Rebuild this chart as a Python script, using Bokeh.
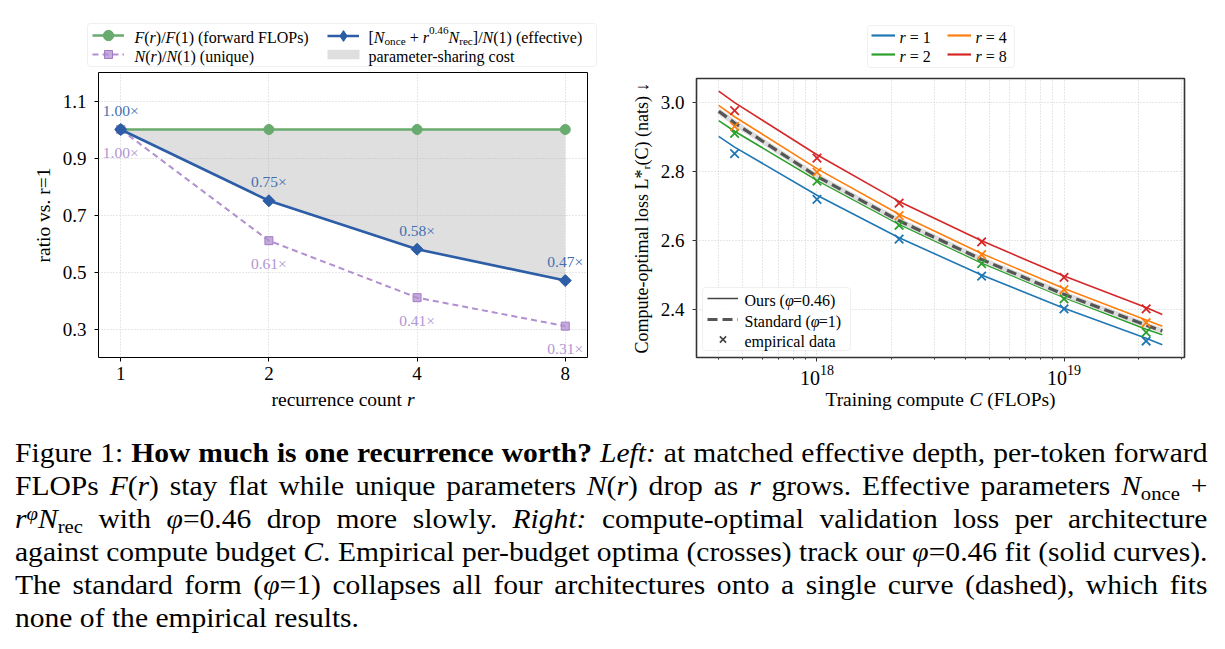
import numpy as np
from bokeh.plotting import figure
from bokeh.models import (Range1d, FixedTicker, PrintfTickFormatter, Label, LabelSet, Legend,
                          LegendItem, BoxAnnotation, ColumnDataSource, Div)
from bokeh.layouts import row, column
from bokeh.embed import file_html
from bokeh.resources import INLINE
from bokeh.core.properties import value

# ---------------- data ----------------
# left panel: ratios relative to r = 1
recurrence = [1, 2, 4, 8]
flops_ratio = [1.00, 1.00, 1.00, 1.00]
unique_ratio = [1.00, 0.61, 0.41, 0.31]
effective_ratio = [1.00, 0.75, 0.58, 0.47]

# right panel: per-budget optima and fitted curves
budgets = [4.64e17, 1.0e18, 2.15e18, 4.64e18, 1.0e19, 2.15e19]
empirical_loss = {
    1: [2.852, 2.720, 2.605, 2.498, 2.403, 2.310],
    2: [2.911, 2.773, 2.645, 2.534, 2.432, 2.335],
    4: [2.931, 2.799, 2.673, 2.560, 2.459, 2.363],
    8: [2.977, 2.839, 2.709, 2.597, 2.494, 2.403],
}
fit_compute = [4.0e17, 4.64e17, 1.0e18, 2.15e18, 4.64e18, 1.0e19, 2.15e19, 2.5e19]
fit_loss = {
    1: [2.902, 2.871, 2.732, 2.609, 2.501, 2.405, 2.318, 2.299],
    2: [2.948, 2.917, 2.775, 2.648, 2.536, 2.436, 2.344, 2.328],
    4: [2.992, 2.959, 2.809, 2.677, 2.563, 2.462, 2.371, 2.353],
    8: [3.033, 3.000, 2.849, 2.714, 2.600, 2.498, 2.407, 2.387],
}
standard_loss = [2.975, 2.941, 2.786, 2.658, 2.546, 2.445, 2.356, 2.339]

# ---------------- styling ----------------
SERIF = "Liberation Serif"
GREEN = "#69aa6e"
BLUE = "#2c5da6"
PURPLE = "#b18fd0"
BLUE_TXT = "#4470b0"
PURPLE_TXT = "#b295d2"
GRID = "#cfcfcf"
TAB = {1: "#1f77b4", 2: "#2ca02c", 4: "#ff7f0e", 8: "#d62728"}
KS = 16      # key text size
AS = 19.5    # axis title size
NAN = [np.nan]

# advance widths (em) used to lay out mixed roman / italic / script text runs
ROMAN_W = {" ": .25, "(": .333, ")": .333, "[": .333, "]": .333, "/": .278, "+": .564,
           "=": .564, ".": .25, "-": .333, "*": .5, "×": .564, "↓": .5, "φ": .52}
ROMAN_W.update({d: .5 for d in "0123456789"})
ROMAN_W.update(dict(zip("abcdefghijklmnopqrstuvwxyz",
                        [.444, .5, .444, .5, .444, .333, .5, .5, .278, .278, .5, .278, .778,
                         .5, .5, .5, .5, .333, .389, .278, .5, .5, .722, .5, .5, .444])))
ROMAN_W.update({"A": .722, "C": .667, "F": .556, "L": .611, "N": .722, "O": .722, "P": .556,
                "S": .556, "T": .611})
ITALIC_W = {"F": .611, "N": .667, "r": .389, "C": .667, "L": .556, "φ": .5}

KINDS = {  # italic, scale, rise (em)
    "r": (False, 1.0, 0.0),
    "i": (True, 1.0, 0.0),
    "sub": (False, 0.7, -0.22),
    "sup": (False, 0.7, 0.38),
}


def run_width(txt, italic):
    table = ITALIC_W if italic else ROMAN_W
    return sum(table.get(c, ROMAN_W.get(c, 0.5)) for c in txt)


def rich_text(p, segs, x, y, size, color="black", align="left"):
    """Lay out a horizontal run of text pieces (screen units, relative to the frame)."""
    widths = [run_width(t, KINDS[k][0]) * size * KINDS[k][1] for t, k in segs]
    pos = x - (sum(widths) / 2 if align == "center" else 0.0)
    for (txt, kind), w in zip(segs, widths):
        italic, scale, rise = KINDS[kind]
        body = txt.strip(" ")
        lead = (len(txt) - len(txt.lstrip(" "))) * ROMAN_W[" "] * size * scale
        if body:
            p.add_layout(Label(x=pos + lead, y=y + rise * size, x_units="screen",
                               y_units="screen", text=body, text_font=SERIF,
                               text_font_style="italic" if italic else "normal",
                               text_font_size=f"{size * scale:.1f}px", text_color=color,
                               text_align="left", text_baseline="alphabetic"))
        pos += w


def key_sample(p, renderers, x0, x1, yc, h):
    """A single legend glyph drawn at a fixed spot; its text is placed separately."""
    p.add_layout(Legend(items=[LegendItem(label=" ", renderers=renderers)],
                        location=(x0, yc - h / 2), padding=0, margin=0, spacing=0,
                        glyph_width=int(round(x1 - x0)), glyph_height=int(h),
                        label_standoff=0, label_width=0, label_height=0,
                        label_text_font_size="1px", border_line_alpha=0,
                        background_fill_alpha=0))


def key_box(p, l, r, b, t):
    p.add_layout(BoxAnnotation(left=l, right=r, bottom=b, top=t, left_units="screen",
                               right_units="screen", bottom_units="screen", top_units="screen",
                               fill_color="white", fill_alpha=0.85, line_color="#cccccc",
                               line_width=1, border_radius=3))


def strip(w, h):
    """Axis-free canvas used for keys and axis titles around a panel."""
    f = figure(width=w, height=h, x_range=Range1d(0, w), y_range=Range1d(0, h),
               x_axis_type=None, y_axis_type=None, output_backend="svg",
               toolbar_location=None, min_border=0, outline_line_color=None,
               frame_align=False)
    f.background_fill_color = "white"
    f.border_fill_color = "white"
    return f


def style_axes(p, edge, edge_w, ylabel, ylabel_size):
    p.outline_line_color = edge
    p.outline_line_width = edge_w
    p.background_fill_color = "white"
    p.border_fill_color = "white"
    for ax in (p.xaxis[0], p.yaxis[0]):
        ax.axis_line_color = None
        ax.major_tick_line_color = edge
        ax.major_tick_line_width = 1
        ax.major_tick_out = 4
        ax.major_tick_in = 0
        ax.minor_tick_line_color = None
        ax.major_label_text_font = SERIF
        ax.major_label_text_font_size = "19px"
        ax.major_label_text_color = "black"
    p.xaxis[0].major_label_standoff = 5
    p.yaxis[0].major_label_standoff = 8
    p.yaxis[0].axis_label = ylabel
    p.yaxis[0].axis_label_text_font = SERIF
    p.yaxis[0].axis_label_text_font_style = "normal"
    p.yaxis[0].axis_label_text_font_size = f"{ylabel_size}px"
    p.yaxis[0].axis_label_text_color = "black"
    p.yaxis[0].axis_label_standoff = 6
    for g in (p.xgrid[0], p.ygrid[0]):
        g.grid_line_color = GRID
        g.grid_line_dash = "1 2"
        g.grid_line_width = 1


# ---------------- left panel ----------------
xs = np.log2(recurrence)
xpad = 0.05 * (xs[-1] - xs[0])
left = figure(width=612, height=320, x_range=Range1d(xs[0] - xpad, xs[-1] + xpad),
              y_range=Range1d(0.2, 1.2), output_backend="svg", toolbar_location=None,
              min_border_left=98, min_border_right=25, min_border_top=2, min_border_bottom=33,
              frame_align=False)
style_axes(left, "#000000", 1.0, "ratio vs. r=1", AS)
left.xaxis.ticker = FixedTicker(ticks=list(xs))
left.xaxis.major_label_overrides = {int(x): str(r) for x, r in zip(xs, recurrence)}
left.xgrid.ticker = left.xaxis.ticker
left.yaxis.ticker = FixedTicker(ticks=[0.3, 0.5, 0.7, 0.9, 1.1])
left.yaxis.formatter = PrintfTickFormatter(format="%.1f")
left.ygrid.ticker = left.yaxis.ticker

src = ColumnDataSource(dict(x=xs, flops=flops_ratio, uniq=unique_ratio, eff=effective_ratio))
left.varea(x="x", y1="eff", y2="flops", source=src, fill_color="#b0b0b0", fill_alpha=0.4)
left.line("x", "flops", source=src, line_color=GREEN, line_width=2.6)
left.scatter("x", "flops", source=src, marker="circle", size=10, fill_color=GREEN,
             line_color=GREEN)
left.line("x", "uniq", source=src, line_color=PURPLE, line_width=2, line_dash="6 4")
left.scatter("x", "uniq", source=src, marker="square", size=8, fill_color=PURPLE,
             fill_alpha=0.75, line_color="#a07cc4", line_width=1)
left.line("x", "eff", source=src, line_color=BLUE, line_width=2.6)
left.scatter("x", "eff", source=src, marker="square", angle=np.pi / 4, size=8.5,
             fill_color=BLUE, line_color=BLUE)

eff_lbl = ColumnDataSource(dict(x=xs, y=effective_ratio,
                                t=[f"{v:.2f}×" for v in effective_ratio]))
uniq_lbl = ColumnDataSource(dict(x=xs, y=unique_ratio, t=[f"{v:.2f}×" for v in unique_ratio]))
left.add_layout(LabelSet(x="x", y="y", text="t", source=eff_lbl, y_offset=19,
                         text_align="center", text_baseline="middle", text_font=value(SERIF),
                         text_font_size="15.5px", text_color=BLUE_TXT))
left.add_layout(LabelSet(x="x", y="y", text="t", source=uniq_lbl, y_offset=-22.5,
                         text_align="center", text_baseline="middle", text_font=value(SERIF),
                         text_font_size="15.5px", text_color=PURPLE_TXT))

# key strip above the left panel
key_L = strip(612, 70)
k_g = [key_L.line(NAN, NAN, line_color=GREEN, line_width=2.6),
       key_L.scatter(NAN, NAN, marker="circle", fill_color=GREEN, line_color=GREEN)]
k_p = [key_L.line(NAN, NAN, line_color=PURPLE, line_width=2, line_dash="6 4"),
       key_L.scatter(NAN, NAN, marker="square", fill_color=PURPLE, fill_alpha=0.75,
                     line_color="#a07cc4")]
k_b = [key_L.line(NAN, NAN, line_color=BLUE, line_width=2.6),
       key_L.scatter(NAN, NAN, marker="diamond", fill_color=BLUE, line_color=BLUE)]
k_c = [key_L.varea(x=NAN, y1=NAN, y2=NAN, fill_color="#b0b0b0", fill_alpha=0.4)]
key_box(key_L, 87, 596, 4, 47)
key_sample(key_L, k_g, 92, 124, 35, 26)
key_sample(key_L, k_p, 92, 124, 16, 20)
key_sample(key_L, k_b, 327, 359, 35, 27)
key_sample(key_L, k_c, 323, 363, 16, 12)
rich_text(key_L, [("F", "i"), ("(", "r"), ("r", "i"), (")/", "r"), ("F", "i"),
                  ("(1) (forward FLOPs)", "r")], 134, 33.5, KS)
rich_text(key_L, [("N", "i"), ("(", "r"), ("r", "i"), (")/", "r"), ("N", "i"),
                  ("(1) (unique)", "r")], 134, 14.5, KS)
rich_text(key_L, [("[", "r"), ("N", "i"), ("once", "sub"), (" + ", "r"), ("r", "i"),
                  ("0.46", "sup"), ("N", "i"), ("rec", "sub"), ("]/", "r"), ("N", "i"),
                  ("(1) (effective)", "r")], 368, 33.5, KS)
rich_text(key_L, [("parameter-sharing cost", "r")], 368, 14.5, KS)

xlab_L = strip(612, 30)
rich_text(xlab_L, [("recurrence count ", "r"), ("r", "i")], 342.5, 21, AS, align="center")

# ---------------- right panel ----------------
lo, hi = np.log10(fit_compute[0]), np.log10(fit_compute[-1])
lpad = 0.05 * (hi - lo)
all_loss = np.concatenate([np.ravel(list(fit_loss.values())),
                           np.ravel(list(empirical_loss.values())), standard_loss])
ymin, ymax = all_loss.min(), all_loss.max()
ypad = 0.05 * (ymax - ymin)
right = figure(width=613, height=314, x_axis_type="log",
               x_range=Range1d(10 ** (lo - lpad), 10 ** (hi + lpad)),
               y_range=Range1d(ymin - ypad, ymax + ypad), output_backend="svg",
               toolbar_location=None, min_border_left=84, min_border_right=41,
               min_border_top=2, min_border_bottom=33, frame_align=False)
style_axes(right, "#333333", 1.6, "Compute-optimal loss L*ᵣ(C) (nats) ↓", 18)
right.xaxis.major_label_text_font_size = "20px"
right.xaxis.major_label_standoff = 3
minor = [m * 10.0 ** e for e in (17, 18, 19) for m in range(2, 10)]
minor = [v for v in minor if 10 ** (lo - lpad) < v < 10 ** (hi + lpad)]
right.xaxis.ticker = FixedTicker(ticks=[1e18, 1e19], minor_ticks=minor)
right.xaxis.minor_tick_line_color = "#333333"
right.xaxis.minor_tick_out = 2
right.xaxis.minor_tick_in = 0
right.xgrid.ticker = right.xaxis.ticker
right.xgrid.minor_grid_line_color = GRID
right.xgrid.minor_grid_line_dash = "1 2"
right.yaxis.ticker = FixedTicker(ticks=[2.4, 2.6, 2.8, 3.0])
right.yaxis.formatter = PrintfTickFormatter(format="%.1f")
right.ygrid.ticker = right.yaxis.ticker

for r in recurrence:
    right.line(fit_compute, fit_loss[r], line_color=TAB[r], line_width=1.6)
right.line(fit_compute, standard_loss, line_color="#dcdcdc", line_width=5.5)
right.line(fit_compute, standard_loss, line_color="#555555", line_width=3.2, line_dash="10 5")
for r in recurrence:
    right.scatter(budgets, empirical_loss[r], marker="x", size=12, line_color=TAB[r],
                  line_width=1.8)

# line-style key, lower left inside the panel
ours_key = right.line(NAN, NAN, line_color="#444444", line_width=1.5)
std_key = right.line(NAN, NAN, line_color="#555555", line_width=3, line_dash="10 5")
emp_key = right.scatter(NAN, NAN, marker="x", line_color="#444444", line_width=1.6)
key_box(right, 6, 154, 7, 70)
key_sample(right, [ours_key], 11, 42, 58.7, 20)
key_sample(right, [std_key], 11, 42, 38, 20)
key_sample(right, [emp_key], 11, 42, 18, 22)
rich_text(right, [("Ours (", "r"), ("φ", "i"), ("=0.46)", "r")], 48, 57, KS)
rich_text(right, [("Standard (", "r"), ("φ", "i"), ("=1)", "r")], 48, 36.3, KS)
rich_text(right, [("empirical data", "r")], 48, 16.3, KS)

# architecture key strip, centred above the panel
key_R = strip(613, 76)
key_box(key_R, 255, 402, 9, 51)
for (r, x0, yc) in [(1, 259, 41), (2, 259, 21.7), (4, 335, 41), (8, 335, 21.7)]:
    k = key_R.line(NAN, NAN, line_color=TAB[r], line_width=2.2)
    key_sample(key_R, [k], x0, x0 + 24, yc, 20)
    rich_text(key_R, [("r", "i"), (f" = {r}", "r")], x0 + 28, yc - 1.5, KS)

xlab_R = strip(613, 30)
rich_text(xlab_R, [("Training compute ", "r"), ("C", "i"), (" (FLOPs)", "r")], 328, 21, AS,
          align="center")

# ---------------- caption ----------------
SUB = '<sub style="font-size:0.7em; vertical-align:-0.28em; line-height:0">'
SUP = '<sup style="font-size:0.7em; vertical-align:0.45em; line-height:0">'
caption_lines = [
    "Figure 1: <b>How much is one recurrence worth?</b> <i>Left:</i> at matched effective "
    "depth, per-token forward",
    "FLOPs <i>F</i>(<i>r</i>) stay flat while unique parameters <i>N</i>(<i>r</i>) drop as "
    f"<i>r</i> grows. Effective parameters <i>N</i>{SUB}once</sub> +",
    f"<i>r</i>{SUP}<i>φ</i></sup><i>N</i>{SUB}rec</sub> with <i>φ</i>=0.46 drop more slowly. "
    "<i>Right:</i> compute-optimal validation loss per architecture",
    "against compute budget <i>C</i>. Empirical per-budget optima (crosses) track our "
    "<i>φ</i>=0.46 fit (solid curves).",
    "The standard form (<i>φ</i>=1) collapses all four architectures onto a single curve "
    "(dashed), which fits",
    "none of the empirical results.",
]
justified = ("height:33px; line-height:33px; white-space:nowrap; text-align:justify; "
             "text-align-last:justify; word-spacing:-0.6px;")
ragged = "height:33px; line-height:33px; white-space:nowrap; text-align:left;"
body = "".join(
    f'<div style="{justified if i < len(caption_lines) - 1 else ragged}">{ln}</div>'
    for i, ln in enumerate(caption_lines))
caption = Div(
    text=(f'<div style="font-family:\'{SERIF}\'; font-size:27px; color:#000; width:1089px; '
          f'margin-left:10px; padding-top:12px; transform:scaleX(1.095); '
          f'transform-origin:0 0;">{body}</div>'),
    width=1225, height=229)

left_panel = column(key_L, left, xlab_L)
right_panel = column(key_R, right, xlab_R)
page = column(row(left_panel, right_panel), caption)
open("out.html", "w").write(file_html(page, INLINE))
